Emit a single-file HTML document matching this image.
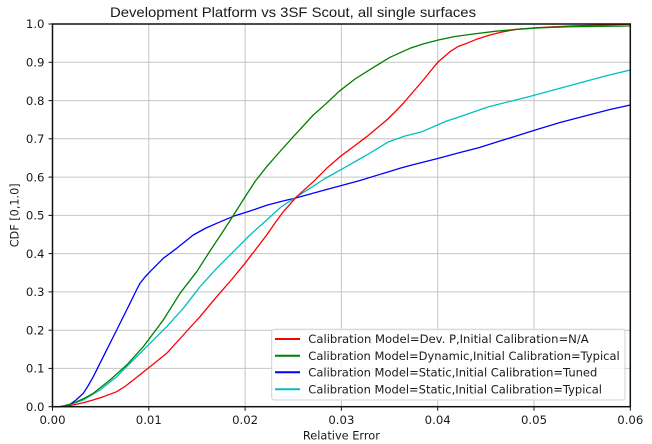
<!DOCTYPE html>
<html><head><meta charset="utf-8"><style>
html,body{margin:0;padding:0;background:#fff;}
svg{display:block;}
text{font-family:"DejaVu Sans","Liberation Sans",sans-serif;fill:#1a1a1a;}
</style></head><body>
<svg width="652" height="444" viewBox="0 0 652 444" xmlns="http://www.w3.org/2000/svg">
<rect width="652" height="444" fill="#fff"/>
<text x="110" y="17" style="font-family:'Liberation Sans',Arial,sans-serif;font-size:14px" textLength="366" lengthAdjust="spacingAndGlyphs">Development Platform vs 3SF Scout, all single surfaces</text>
<g stroke="#c4c4c4" stroke-width="1">
<line x1="148.8" y1="24" x2="148.8" y2="406.7"/>
<line x1="245.1" y1="24" x2="245.1" y2="406.7"/>
<line x1="341.4" y1="24" x2="341.4" y2="406.7"/>
<line x1="437.7" y1="24" x2="437.7" y2="406.7"/>
<line x1="534.0" y1="24" x2="534.0" y2="406.7"/>
<line x1="52.5" y1="368.4" x2="630.3" y2="368.4"/>
<line x1="52.5" y1="330.2" x2="630.3" y2="330.2"/>
<line x1="52.5" y1="291.9" x2="630.3" y2="291.9"/>
<line x1="52.5" y1="253.6" x2="630.3" y2="253.6"/>
<line x1="52.5" y1="215.4" x2="630.3" y2="215.4"/>
<line x1="52.5" y1="177.1" x2="630.3" y2="177.1"/>
<line x1="52.5" y1="138.8" x2="630.3" y2="138.8"/>
<line x1="52.5" y1="100.6" x2="630.3" y2="100.6"/>
<line x1="52.5" y1="62.3" x2="630.3" y2="62.3"/>
</g>
<g fill="none" stroke-width="1.3" stroke-linejoin="round">
<polyline stroke="#0000ff" points="52.5,406.7 60,406.7 63.3,406 70,404.3 76,400 83.3,393.3 88,386 93.3,376.7 103.3,356.7 116.7,330 130,303.3 136,291 140,283.3 145,277 150,271.7 163.3,258.3 176.7,248.3 193.3,235 205,228.5 216.7,223.3 233.3,216.3 250,211 266.7,205.3 283,201 296.7,197.7 322,190.7 343.3,185 360,180.5 388.7,171.7 400,168.3 410,165.5 438.7,158.3 460,152.5 478.7,147.7 500,141 535.3,130 560,122.5 588.7,115 610,109.5 630.3,105"/>
<polyline stroke="#00bfbf" points="52.5,406.7 60,406.5 63.3,406 73,403.5 83.3,400 100,390 116.7,376.7 133.3,360 150,343.3 166.7,326.7 183.3,308.3 200,286.7 216.7,268.3 233.3,251.7 250,235 266.7,220 281,207 296.7,196.7 310,188.3 325,178.5 343.3,168.3 366.7,155 388.7,141.7 405,136 422,131.7 446.7,121 455.3,118.3 488.7,106.7 528.7,96.7 572,85 605.3,76 630.3,70"/>
<polyline stroke="#ff0000" points="52.5,406.7 60,406.6 63.3,406.3 73,405 83.3,402.7 93,400 103.3,396.7 116.7,391.7 125,386.5 133.3,380 150,366.7 166.7,353.3 183.3,335 200,316.7 216.7,296.7 231.7,279.5 245,263.3 256,249 266.7,235 275,223 283.3,211.7 296.7,196.7 313.3,181.7 326.7,168.3 340,156.7 353,147 366.7,136.7 386.7,120 395,112 403.3,103.3 413,92 423.3,80 431,70.5 438.3,61.7 450,51.7 458,46.5 466.7,43.3 478,38.7 490,35 503,31.8 516.7,29.3 540,27.5 570,26 600,25 630.3,24.2"/>
<polyline stroke="#008000" points="52.5,406.7 60,406.5 63.3,406 70,404.5 76.7,401.7 85,398 93.3,393.3 110,380 126.7,365 143.3,346.7 163.3,320 180,293.3 196.7,271.7 210,251 223.3,231 233.3,215.5 245,197 255,181.5 266.7,166.7 280,151.5 293.3,136.7 313.3,115 322,107.3 330,100 338.7,91.7 355,79 372,68.3 390,57.3 410,48.3 423,44 438.3,40 455,36.5 473.3,34 495,31.3 516.7,29.3 540,27.8 570,26.7 600,26.3 630.3,26"/>
</g>
<rect x="52.5" y="24" width="577.8" height="382.7" fill="none" stroke="#111" stroke-width="1.5"/>
<g stroke="#111" stroke-width="1">
<line x1="48.5" y1="406.7" x2="52.5" y2="406.7"/>
<line x1="48.5" y1="368.4" x2="52.5" y2="368.4"/>
<line x1="48.5" y1="330.2" x2="52.5" y2="330.2"/>
<line x1="48.5" y1="291.9" x2="52.5" y2="291.9"/>
<line x1="48.5" y1="253.6" x2="52.5" y2="253.6"/>
<line x1="48.5" y1="215.4" x2="52.5" y2="215.4"/>
<line x1="48.5" y1="177.1" x2="52.5" y2="177.1"/>
<line x1="48.5" y1="138.8" x2="52.5" y2="138.8"/>
<line x1="48.5" y1="100.6" x2="52.5" y2="100.6"/>
<line x1="48.5" y1="62.3" x2="52.5" y2="62.3"/>
<line x1="48.5" y1="24" x2="52.5" y2="24"/>
<line x1="52.5" y1="406.7" x2="52.5" y2="410.7"/>
<line x1="148.8" y1="406.7" x2="148.8" y2="410.7"/>
<line x1="245.1" y1="406.7" x2="245.1" y2="410.7"/>
<line x1="341.4" y1="406.7" x2="341.4" y2="410.7"/>
<line x1="437.7" y1="406.7" x2="437.7" y2="410.7"/>
<line x1="534.0" y1="406.7" x2="534.0" y2="410.7"/>
<line x1="630.3" y1="406.7" x2="630.3" y2="410.7"/>
</g>
<g style="font-size:11.7px" text-anchor="end">
<text x="44.5" y="410.9">0.0</text>
<text x="44.5" y="372.6">0.1</text>
<text x="44.5" y="334.4">0.2</text>
<text x="44.5" y="296.1">0.3</text>
<text x="44.5" y="257.8">0.4</text>
<text x="44.5" y="219.6">0.5</text>
<text x="44.5" y="181.3">0.6</text>
<text x="44.5" y="143">0.7</text>
<text x="44.5" y="104.8">0.8</text>
<text x="44.5" y="66.5">0.9</text>
<text x="44.5" y="28.2">1.0</text>
</g>
<g style="font-size:11.7px" text-anchor="middle">
<text x="52.5" y="424">0.00</text>
<text x="148.8" y="424">0.01</text>
<text x="245.1" y="424">0.02</text>
<text x="341.4" y="424">0.03</text>
<text x="437.7" y="424">0.04</text>
<text x="534.0" y="424">0.05</text>
<text x="630.3" y="424">0.06</text>
<text x="341.4" y="439.3" textLength="77" lengthAdjust="spacingAndGlyphs">Relative Error</text>
<text x="0" y="0" transform="translate(18.3,215.3) rotate(-90)" textLength="64" lengthAdjust="spacingAndGlyphs">CDF [0,1.0]</text>
</g>
<rect x="271.7" y="329.3" width="353.3" height="70.7" rx="2.5" fill="#fff" fill-opacity="0.85" stroke="#d0d0d0" stroke-width="1"/>
<g stroke-width="2">
<line x1="275" y1="339" x2="300" y2="339" stroke="#ff0000"/>
<line x1="275" y1="355.7" x2="300" y2="355.7" stroke="#008000"/>
<line x1="275" y1="372.3" x2="300" y2="372.3" stroke="#0000ff"/>
<line x1="275" y1="389.3" x2="300" y2="389.3" stroke="#00bfbf"/>
</g>
<g style="font-size:11.7px">
<text x="308.3" y="343.2" textLength="280.4" lengthAdjust="spacingAndGlyphs">Calibration Model=Dev. P,Initial Calibration=N/A</text>
<text x="308.3" y="359.9" textLength="311.4" lengthAdjust="spacingAndGlyphs">Calibration Model=Dynamic,Initial Calibration=Typical</text>
<text x="308.3" y="376.5" textLength="289" lengthAdjust="spacingAndGlyphs">Calibration Model=Static,Initial Calibration=Tuned</text>
<text x="308.3" y="393.5" textLength="293.7" lengthAdjust="spacingAndGlyphs">Calibration Model=Static,Initial Calibration=Typical</text>
</g>
</svg>
</body></html>
